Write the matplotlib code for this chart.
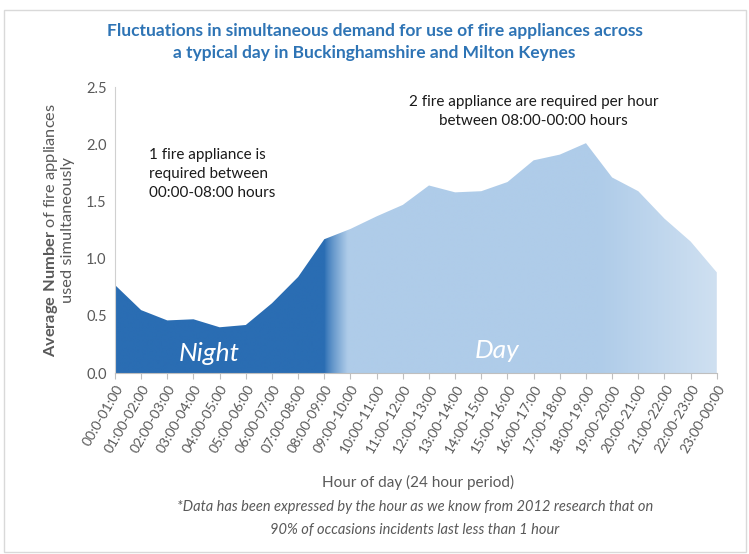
import numpy as np
import matplotlib
matplotlib.use("Agg")
import matplotlib.pyplot as plt
from matplotlib.colors import to_rgb
from matplotlib.patches import Rectangle

plt.rcParams["font.family"] = ["Lato", "DejaVu Sans"]
plt.rcParams["mathtext.fontset"] = "custom"
plt.rcParams["mathtext.rm"] = "Lato"
plt.rcParams["mathtext.bf"] = "Lato:bold"

# Hourly slots and average simultaneous appliance use
hours = ["00:0-01:00", "01:00-02:00", "02:00-03:00", "03:00-04:00", "04:00-05:00",
         "05:00-06:00", "06:00-07:00", "07:00-08:00", "08:00-09:00", "09:00-10:00",
         "10:00-11:00", "11:00-12:00", "12:00-13:00", "13:00-14:00", "14:00-15:00",
         "15:00-16:00", "16:00-17:00", "17:00-18:00", "18:00-19:00", "19:00-20:00",
         "20:00-21:00", "21:00-22:00", "22:00-23:00", "23:00-00:00"]
avg_appliances = [0.77, 0.55, 0.46, 0.47, 0.40, 0.42, 0.61, 0.84, 1.17, 1.26,
                  1.37, 1.47, 1.64, 1.58, 1.59, 1.67, 1.86, 1.91, 2.01, 1.71,
                  1.59, 1.35, 1.15, 0.88]
y_ticks = [0.0, 0.5, 1.0, 1.5, 2.0, 2.5]

night_col = to_rgb("#2a6db3")
day_col = to_rgb("#afcce9")
fade_col = to_rgb("#cfe0f1")
grey = "#595959"

fig = plt.figure(figsize=(7.49, 5.54), dpi=100)
ax = fig.add_axes([0.1535, 0.3267, 0.8035, 0.516])

x = np.arange(len(hours))
y = np.array(avg_appliances)
x_max = len(hours) - 1

# horizontal colour ramp: dark night block, soft blend into day, fade at the end
xs = np.linspace(0, x_max, 1200)
cols = np.zeros((len(xs), 3))
for i, xv in enumerate(xs):
    if xv <= 8.0:
        c = np.array(night_col)
    elif xv <= 8.9:
        t = (xv - 8.0) / 0.9
        t = t ** 0.8
        c = (1 - t) * np.array(night_col) + t * np.array(day_col)
    elif xv <= 18.5:
        c = np.array(day_col)
    else:
        t = (xv - 18.5) / (x_max - 18.5)
        c = (1 - t) * np.array(day_col) + t * np.array(fade_col)
    cols[i] = c
grad = cols[np.newaxis, :, :]

area = ax.fill_between(x, 0, y, color="none", lw=0)
img = ax.imshow(grad, extent=[0, x_max, 0, 2.5], aspect="auto", origin="lower",
                interpolation="bilinear", zorder=1)
img.set_clip_path(area.get_paths()[0], transform=ax.transData)

ax.set_xlim(0, x_max)
ax.set_ylim(0, 2.5)
ax.set_yticks(y_ticks)
ax.set_yticklabels([f"{v:.1f}" for v in y_ticks], fontsize=10.5, color=grey)
ax.set_xticks(x)
ax.set_xticklabels(hours, rotation=60, ha="right", va="top", fontsize=10,
                   color=grey, rotation_mode="anchor")
ax.tick_params(axis="x", length=4, color="#bfbfbf", pad=3)
ax.tick_params(axis="y", length=0, pad=6)
for side in ["top", "right"]:
    ax.spines[side].set_visible(False)
ax.spines["left"].set_color("#d0d0d0")
ax.spines["bottom"].set_color("#bfbfbf")

ax.set_ylabel("$\\bf{Average\\ Number}$ of fire appliances\nused simultaneously",
              fontsize=11.8, color=grey, labelpad=8, linespacing=1.1)

ax.text(1.3, 1.97, "1 fire appliance is\nrequired between\n00:00-08:00 hours",
        fontsize=11, color="#1a1a1a", va="top", ha="left", linespacing=1.45)
ax.text(16.0, 2.43, "2 fire appliance are required per hour\nbetween 08:00-00:00 hours",
        fontsize=11, color="#1a1a1a", va="top", ha="center", linespacing=1.45)
ax.text(3.6, 0.17, "Night", fontsize=19, color="white", style="italic",
        ha="center", va="center", zorder=3)
ax.text(14.6, 0.2, "Day", fontsize=19, color="white", style="italic",
        ha="center", va="center", zorder=3)

fig.text(0.5, 0.958, "Fluctuations in simultaneous demand for use of fire appliances across\n"
         "a typical day in Buckinghamshire and Milton Keynes",
         fontsize=12.5, fontweight="bold", color="#2e74b5", ha="center", va="top",
         linespacing=1.45)
fig.text(0.558, 0.13, "Hour of day (24 hour period)", fontsize=11, color=grey,
         ha="center", va="center")
fig.text(0.554, 0.064, "*Data has been expressed by the hour as we know from 2012 research that on\n"
         "90% of occasions incidents last less than 1 hour",
         fontsize=10.5, color=grey, style="italic", ha="center", va="center",
         linespacing=1.75)

# thin frame round the whole chart
fig.patches.append(Rectangle((0.006, 0.004), 0.99, 0.978, transform=fig.transFigure,
                             fill=False, edgecolor="#d9d9d9", lw=1))

fig.savefig("out.png", dpi=100)
